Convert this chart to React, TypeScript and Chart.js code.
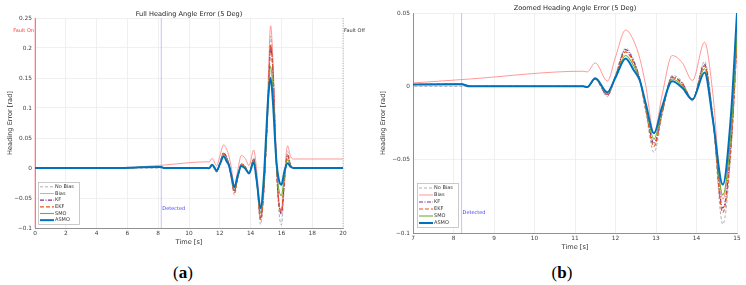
import { useEffect, useRef } from "react";
import { Chart, registerables } from "chart.js";

Chart.register(...registerables);

// ---------------- data ----------------
const time = [0, 5.8, 7, 8.2, 8.4, 11.2, 11.3, 11.5, 11.8, 12.0, 12.25, 12.45, 12.6, 12.75, 12.95, 13.15, 13.4, 13.65, 13.9, 14.2, 14.4, 14.65, 14.85, 15.0, 15.15, 15.3, 15.45, 15.65, 15.8, 16.0, 16.2, 16.4, 16.6, 16.8, 17.0, 17.5, 20];

const noBias = [0, 0, 0, 0, 0, 0, 0, 0.005, -0.007, 0.008, 0.026, 0.018, 0.004, -0.018, -0.045, -0.02, 0.0075, 0.003, -0.01, 0.017, -0.02, -0.094, -0.045, 0.03, 0.13, 0.22, 0.17, 0.02, -0.06, -0.095, -0.03, 0.028, 0.005, 0, 0, 0, 0];
const bias = [0, 0, 0.0023, 0.0046, 0.005, 0.0103, 0.0098, 0.016, 0.0036, 0.02, 0.0384, 0.031, 0.019, 0.0, -0.032, -0.006, 0.021, 0.016, 0.004, 0.03, -0.004, -0.077, -0.032, 0.045, 0.15, 0.237, 0.18, 0.035, -0.045, -0.072, -0.01, 0.037, 0.019, 0.015, 0.015, 0.015, 0.015];
const kf = [0, 0, 0.0012, 0.0015, 0, 0, -0.0005, 0.005, -0.006, 0.007, 0.025, 0.017, 0.005, -0.015, -0.039, -0.018, 0.0065, 0.002, -0.009, 0.015, -0.02, -0.083, -0.04, 0.033, 0.12, 0.2, 0.16, 0.02, -0.05, -0.077, -0.02, 0.022, 0.004, 0, 0, 0, 0];
const ekf = [0, 0, 0.0012, 0.0015, 0, 0, -0.0005, 0.005, -0.0055, 0.0068, 0.0235, 0.016, 0.0045, -0.016, -0.041, -0.018, 0.006, 0.0015, -0.009, 0.014, -0.021, -0.086, -0.042, 0.032, 0.12, 0.205, 0.16, 0.02, -0.048, -0.073, -0.018, 0.02, 0.003, 0, 0, 0, 0];
const smo = [0, 0, 0.0012, 0.0015, 0, 0, -0.0005, 0.0052, -0.005, 0.0065, 0.021, 0.014, 0.0045, -0.014, -0.036, -0.016, 0.005, 0.0005, -0.009, 0.012, -0.022, -0.074, -0.032, 0.035, 0.11, 0.17, 0.13, 0.02, -0.03, -0.046, -0.012, 0.014, 0.003, 0, 0, 0, 0];
const asmo = [0, 0, 0.0012, 0.0015, 0, 0, -0.0005, 0.0055, -0.004, 0.006, 0.019, 0.011, 0.004, -0.012, -0.032, -0.014, 0.0035, -0.001, -0.009, 0.0095, -0.022, -0.067, -0.02, 0.05, 0.12, 0.15, 0.11, 0.02, -0.015, -0.028, -0.005, 0.008, 0.002, 0, 0, 0, 0];

const seriesNames = ["No Bias", "Bias", "KF", "EKF", "SMO", "ASMO"];
const seriesValues = [noBias, bias, kf, ekf, smo, asmo];

const fullXTicks = [0, 2, 4, 6, 8, 10, 12, 14, 16, 18, 20];
const fullYTicks = [-0.1, -0.05, 0, 0.05, 0.1, 0.15, 0.2, 0.25];
const zoomXTicks = [7, 8, 9, 10, 11, 12, 13, 14, 15];
const zoomYTicks = [-0.1, -0.05, 0, 0.05];

const faultOnTime = 0;
const faultOffTime = 20;
const detectedTime = 8.2;

// ---------------- styles ----------------
const FONT = "'DejaVu Sans', sans-serif";
const seriesStyles = [
  { color: "#a6a6a6", width: 0.9, dash: [3, 2] },
  { color: "rgba(255,120,120,0.85)", width: 0.9, dash: [] },
  { color: "#7E2F8E", width: 1.1, dash: [4, 1.5, 1, 1.5] },
  { color: "#E8541E", width: 1.2, dash: [4, 2] },
  { color: "#77AC30", width: 1.1, dash: [] },
  { color: "#0072BD", width: 2, dash: [] },
];

type Marker = {
  x: number;
  color: string;
  dash: number[];
  width: number;
  label?: string;
  labelColor?: string;
  labelY?: number;
  align?: "left" | "right";
};

type PanelProps = {
  left: number;
  width: number;
  height: number;
  padding: { top: number; right: number; left: number; bottom: number };
  yWidth: number;
  xHeight: number;
  xMin: number;
  xMax: number;
  yMin: number;
  yMax: number;
  xTicks: number[];
  yTicks: number[];
  title: string;
  titleY: number;
  markers: Marker[];
  legendOffset: { dx: number; dy: number; w: number; h: number };
};

function fmt(v: number) {
  const r = Math.round(v * 1000) / 1000;
  if (r === 0) return "0";
  return r < 0 ? "\u2212" + String(Math.abs(r)) : String(r);
}

function ChartPanel(p: PanelProps) {
  const ref = useRef<HTMLCanvasElement | null>(null);
  useEffect(() => {
    if (!ref.current) return;
    const datasets = seriesNames
      .map((name, i) => ({
        label: name,
        data: time.map((t, k) => ({ x: t, y: seriesValues[i][k] })),
        borderColor: seriesStyles[i].color,
        borderWidth: seriesStyles[i].width,
        borderDash: seriesStyles[i].dash,
        pointRadius: 0,
        fill: false,
        cubicInterpolationMode: "monotone" as const,
      }))
      .reverse();

    const markerPlugin = {
      id: "markers",
      beforeDatasetsDraw(chart: any) {
        const { ctx, chartArea, scales } = chart;
        ctx.save();
        for (const m of p.markers) {
          if (m.x < p.xMin || m.x > p.xMax) continue;
          const px = scales.x.getPixelForValue(m.x);
          ctx.strokeStyle = m.color;
          ctx.lineWidth = m.width;
          ctx.setLineDash(m.dash);
          ctx.beginPath();
          ctx.moveTo(px, chartArea.top);
          ctx.lineTo(px, chartArea.bottom);
          ctx.stroke();
        }
        ctx.restore();
      },
      afterDraw(chart: any) {
        const { ctx, chartArea, scales } = chart;
        ctx.save();
        ctx.font = `5px ${FONT}`;
        ctx.textBaseline = "middle";
        for (const m of p.markers) {
          if (!m.label || m.x < p.xMin || m.x > p.xMax) continue;
          const px = scales.x.getPixelForValue(m.x);
          const py = scales.y.getPixelForValue(m.labelY as number);
          ctx.fillStyle = m.labelColor || "#333";
          ctx.textAlign = m.align === "right" ? "right" : "left";
          ctx.fillText(m.label, m.align === "right" ? px - 1 : px + 1, py);
        }
        // title
        ctx.font = `6.6px ${FONT}`;
        ctx.fillStyle = "#262626";
        ctx.textAlign = "center";
        ctx.fillText(p.title, (chartArea.left + chartArea.right) / 2, p.titleY);
        // legend
        const lx = chartArea.left + p.legendOffset.dx;
        const ly = chartArea.bottom - p.legendOffset.dy - p.legendOffset.h;
        ctx.fillStyle = "#ffffff";
        ctx.fillRect(lx, ly, p.legendOffset.w, p.legendOffset.h);
        ctx.strokeStyle = "#bdbdbd";
        ctx.lineWidth = 0.8;
        ctx.setLineDash([]);
        ctx.strokeRect(lx + 0.5, ly + 0.5, p.legendOffset.w, p.legendOffset.h);
        const rowH = (p.legendOffset.h - 2) / seriesNames.length;
        ctx.font = `5px ${FONT}`;
        ctx.textAlign = "left";
        seriesNames.forEach((name, i) => {
          const yy = ly + 1.5 + rowH * (i + 0.5);
          const st = seriesStyles[i];
          ctx.strokeStyle = st.color;
          ctx.lineWidth = st.width;
          ctx.setLineDash(st.dash);
          ctx.beginPath();
          ctx.moveTo(lx + 2, yy);
          ctx.lineTo(lx + 16, yy);
          ctx.stroke();
          ctx.setLineDash([]);
          ctx.fillStyle = "#333";
          ctx.fillText(name, lx + 17, yy);
        });
        ctx.restore();
      },
    };

    const chart = new Chart(ref.current, {
      type: "line",
      data: { datasets },
      options: {
        animation: false,
        responsive: false,
        maintainAspectRatio: false,
        layout: { padding: p.padding },
        plugins: { legend: { display: false }, tooltip: { enabled: false }, title: { display: false } },
        scales: {
          x: {
            type: "linear",
            min: p.xMin,
            max: p.xMax,
            afterBuildTicks: (s: any) => {
              s.ticks = p.xTicks.map((v) => ({ value: v }));
            },
            afterFit: (s: any) => {
              s.height = p.xHeight;
            },
            ticks: { font: { family: FONT, size: 5.8 }, color: "#404040", padding: 2.5, maxRotation: 0, autoSkip: false, callback: (v: any) => fmt(Number(v)) },
            grid: { color: "#ececec", lineWidth: 0.8, drawTicks: false },
            border: { color: "#7a7a7a", width: 0.8 },
            title: { display: true, text: "Time [s]", font: { family: FONT, size: 6.6 }, color: "#333", padding: { top: 0, bottom: 4 } },
          },
          y: {
            type: "linear",
            min: p.yMin,
            max: p.yMax,
            afterBuildTicks: (s: any) => {
              s.ticks = p.yTicks.map((v) => ({ value: v }));
            },
            afterFit: (s: any) => {
              s.width = p.yWidth;
            },
            ticks: { font: { family: FONT, size: 5.8 }, color: "#404040", padding: 3, autoSkip: false, callback: (v: any) => fmt(Number(v)) },
            grid: { color: "#ececec", lineWidth: 0.8, drawTicks: false },
            border: { color: "#7a7a7a", width: 0.8 },
            title: { display: true, text: "Heading Error [rad]", font: { family: FONT, size: 6.6 }, color: "#333", padding: { top: 6, bottom: 0 } },
          },
        },
      },
      plugins: [markerPlugin],
    } as any);
    return () => chart.destroy();
  }, []);
  return (
    <canvas
      ref={ref}
      width={p.width}
      height={p.height}
      style={{ position: "absolute", left: p.left, top: 0, width: p.width, height: p.height }}
    />
  );
}

const fullMarkers: Marker[] = [
  { x: faultOnTime, color: "rgba(255,150,150,0.8)", dash: [], width: 1, label: "Fault On", labelColor: "#ff3b3b", labelY: 0.228, align: "right" },
  { x: detectedTime, color: "rgba(170,170,255,0.7)", dash: [], width: 1, label: "Detected", labelColor: "#3b3bff", labelY: -0.068, align: "left" },
  { x: faultOffTime, color: "#9a9a9a", dash: [1, 1.5], width: 0.8, label: "Fault Off", labelColor: "#333", labelY: 0.228, align: "left" },
];

const zoomMarkers: Marker[] = [
  { x: detectedTime, color: "rgba(170,170,255,0.7)", dash: [], width: 1, label: "Detected", labelColor: "#3b3bff", labelY: -0.086, align: "left" },
];

export default function App() {
  return (
    <div style={{ position: "absolute", left: 0, top: 0, width: 746, height: 285, background: "#fff", overflow: "hidden" }}>
      <ChartPanel
        left={0}
        width={373}
        height={250}
        padding={{ top: 18, right: 30, left: 0, bottom: 0 }}
        yWidth={35}
        xHeight={22}
        xMin={0}
        xMax={20}
        yMin={-0.1}
        yMax={0.25}
        xTicks={fullXTicks}
        yTicks={fullYTicks}
        title="Full Heading Angle Error (5 Deg)"
        titleY={14}
        markers={fullMarkers}
        legendOffset={{ dx: 3, dy: 4, w: 41, h: 42 }}
      />
      <ChartPanel
        left={373}
        width={373}
        height={255}
        padding={{ top: 13, right: 9, left: 0, bottom: 0 }}
        yWidth={40}
        xHeight={22}
        xMin={7}
        xMax={15}
        yMin={-0.1}
        yMax={0.05}
        xTicks={zoomXTicks}
        yTicks={zoomYTicks}
        title="Zoomed Heading Angle Error (5 Deg)"
        titleY={8}
        markers={zoomMarkers}
        legendOffset={{ dx: 4, dy: 6, w: 41, h: 44 }}
      />
      <div style={{ position: "absolute", left: 153, top: 262, width: 60, textAlign: "center", font: "17px 'Liberation Serif', serif", lineHeight: "22px", color: "#000" }}>
        (<b>a</b>)
      </div>
      <div style={{ position: "absolute", left: 532, top: 262, width: 60, textAlign: "center", font: "17px 'Liberation Serif', serif", lineHeight: "22px", color: "#000" }}>
        (<b>b</b>)
      </div>
    </div>
  );
}
